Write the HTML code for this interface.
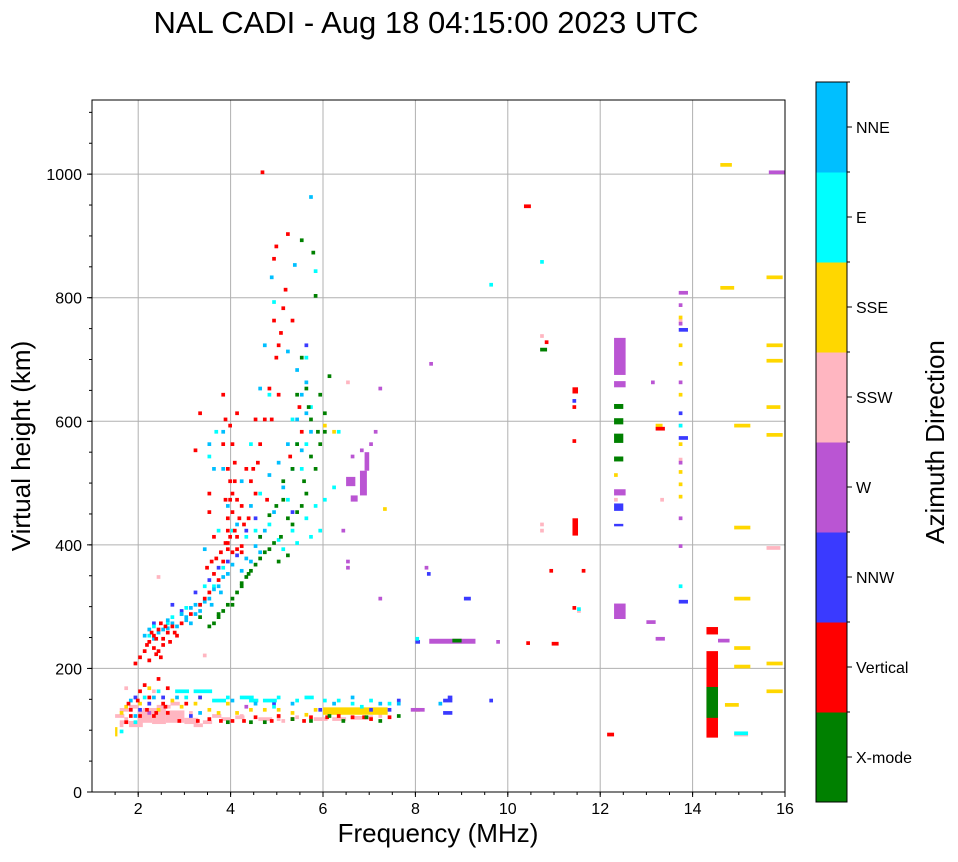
<!DOCTYPE html>
<html><head><meta charset="utf-8"><style>
body{margin:0;background:#fff;font-family:"Liberation Sans",sans-serif}
svg text{font-family:"Liberation Sans",sans-serif}
</style></head><body>
<svg id="chart" width="958" height="857" xmlns="http://www.w3.org/2000/svg">
<rect width="958" height="857" fill="#fff"/>
<text x="426" y="33" font-size="31" text-anchor="middle">NAL CADI - Aug 18 04:15:00 2023 UTC</text>
<g id="grid"></g>
<g id="marks"></g>
<rect x="92" y="100" width="693" height="692" fill="none" stroke="#000" stroke-width="1"/>
<g id="axes"></g>
<text x="438" y="842" font-size="26" text-anchor="middle">Frequency (MHz)</text>
<text transform="translate(30,446) rotate(-90)" font-size="26" text-anchor="middle">Virtual height (km)</text>
<g id="colorbar"></g>
<text transform="translate(944,442) rotate(-90)" font-size="26" text-anchor="middle">Azimuth Direction</text>
</svg>
<script>
// categories bottom->top
const directions=["X-mode","Vertical","NNW","W","SSW","SSE","E","NNE"];
const dirColors=["#008000","#ff0000","#3a3aff","#ba55d3","#ffb6c1","#ffd700","#00ffff","#00bfff"];
const xTicks=[2,4,6,8,10,12,14,16];
const yTicks=[0,200,400,600,800,1000];
// echoes: [freq MHz, virtual height km, width MHz, thickness km]
const xmode=[[3.6,270],[3.8,290],[3.9,300],[4.0,310],[4.1,320],[4.3,345],[4.4,355],[4.5,365],[4.7,385],[4.9,400],[5.0,370],[5.2,380],[5.3,430],[5.5,460],[5.6,480],[5.8,520],[5.9,560],[6.0,610],[5.7,600],[5.6,650],[5.5,700],[5.4,640],[5.8,800],[5.5,890],[5.75,870],[6.1,670],[4.6,410],[5.1,470],[3.3,280],[4.8,445],[3.9,110],[4.7,110],[5.3,115],[6.9,118],[7.6,120],[6.1,120],[10.7,713,.15],[12.3,535,.2,8],[12.3,565,.2,15],[12.3,595,.2,10],[12.3,620,.2,8],[14.3,120,.25,50],[8.8,242,.2],[3.7,285],[4.2,330],[5.4,560],[5.9,640],
[3.7,280],[4.0,300],[4.2,335],[4.35,350],[4.6,375],[4.8,390],[5.05,410],[5.2,440],[5.4,450],[5.55,500],[5.7,540],[5.85,580],[5.65,620],[6.0,580],[5.3,520],[5.1,500],[4.95,460],[3.5,265],[4.4,110],[5.7,112],[6.4,112],[7.2,112]];
const vertical=[[1.9,205],[2.0,215],[2.1,225],[2.2,240],[2.3,250],[2.4,260],[2.5,245],[2.6,255],[2.7,265],[2.8,250],[2.9,270],[2.3,230],[2.5,235],[2.2,210],[2.4,225],[3.1,285],[3.3,300],[3.4,310],[3.5,320],[3.6,350],[3.7,340],[3.8,370],[3.9,390],[4.0,385],[4.1,390],[4.2,395],[3.9,420],[4.0,450],[4.1,470],[3.95,500],[4.05,530],[3.8,560],[3.85,600],[3.8,640],[4.0,480],[4.3,520],[4.4,500],[4.5,480],[3.5,450],[3.6,410],[3.2,550],[3.3,610],[4.6,560],[4.7,600],[4.9,860],[5.0,720],[5.1,780],[5.2,900],[4.95,880],[4.65,1000],[4.8,650],[5.0,640],[5.3,760],[4.5,600],[5.5,580],[3.5,480],[2.0,120],[2.2,150],[2.5,140],[1.7,110],[1.8,130],[2.6,165],[3.0,140],[3.5,115],[4.0,112],[4.5,118],[5.0,120],[5.3,115],[5.7,118],[6.3,120],[6.6,118],[7.0,115],[7.4,118],[2.1,170],[2.4,180],[2.0,160],[1.8,120],[2.3,120],[2.6,125],[3.9,400],[4.1,410],[3.9,440],[4.2,460],
[2.15,235],[2.25,255],[2.35,245],[2.45,270],[2.55,265],[2.65,240],[2.75,255],[2.35,220],[2.45,215],[3.65,375],[3.75,385],[3.85,400],[3.95,410],[4.05,420],[4.15,440],[3.85,470],[3.95,470],[4.05,500],[3.9,520],[4.0,560],[3.95,590],[4.1,610],[4.25,430],[4.35,440],[4.45,520],[4.55,530],[4.2,385],[3.55,370],[3.45,360],[4.75,470],[4.85,600],[4.95,700],[5.05,740],[5.15,810],[4.9,760],[5.25,540],[5.45,620],[1.75,140],[1.95,145],[2.15,130],[2.35,125],[2.55,135],[2.85,112],[3.25,112],[3.75,112],[4.25,112],[4.85,112],[5.55,112],[6.05,118],[6.85,118],
[10.35,945,.15],[10.8,725],[10.9,355],[10.95,237,.15],[10.4,238],[11.4,415,.12,28],[11.4,645,.12,10],[11.4,620],[11.4,565],[11.6,355],[11.4,295],[12.15,90,.15],[13.2,585,.2],[14.3,88,.25,140],[14.3,255,.25,12]];
const nnw=[[2.3,270],[2.9,290],[3.2,320],[3.5,340],[3.7,360],[4.1,380],[4.5,440],[4.6,410],[5.3,450],[5.6,720],[1.9,150],[2.2,140],[7.6,145],[8.6,145,.2],[8.6,125,.2],[9.6,145],[7.4,130],[3.1,120],[8.0,240,.1],[8.25,350],[9.05,310,.15],[12.3,430,.2,4],[12.3,455,.2,12],[13.7,570,.2],[13.7,305,.2],[13.7,745,.2],[13.7,610],[11.4,630],
[2.0,130],[2.5,150],[3.3,150],[4.9,140],[5.9,130],[7.0,130],[2.7,300],[3.9,370],[4.3,420],[8.7,150,.1]];
const west=[[6.5,495,.2,15],[6.6,470,.15,10],[6.8,480,.15,40],[6.9,520,.1,30],[6.4,420],[6.5,360],[6.5,370],[6.6,540],[6.8,550],[7.0,560],[7.1,580],[7.2,650],[7.2,310],[8.2,360],[8.3,690],[8.3,240,1,8],[9.75,240],[12.3,280,.25,25],[12.3,480,.25,10],[12.3,675,.25,60],[12.3,655,.25,10],[13.7,805,.2],[13.7,785],[13.7,755],[13.7,660],[13.7,530],[13.7,440],[13.7,395],[13.2,245,.2],[13.0,272,.2],[13.1,660],[14.55,242,.25],[15.65,1000,.35],[7.9,130,.3],[6.9,118],[4.3,135],[2.2,125]];
const ssw=[[1.6,110,.2],[1.7,115],[1.8,105,.3,10],[2.0,112,.3,20],[2.3,110,.3,25],[2.6,112,.4,20],[3.0,110,.3,10],[1.8,135,.2],[2.2,140],[2.5,150],[2.8,125],[3.2,105,.2],[4.6,115,.3],[5.8,115,.3],[6.2,115,.3],[6.6,117,.4],[7.0,118],[1.7,165],[2.4,345],[3.4,218],[3.6,120,.2],[4.1,118,.2],[5.1,112],[6.5,660],[10.7,735],[10.7,420],[10.7,430],[11.5,290],[12.3,470],[13.7,590],[13.7,535],[13.7,760],[13.3,470],[15.6,392,.3],[14.9,90,.3],
[1.5,120,.2],[1.6,130,.2],[2.1,130,.3],[2.4,135,.3],[2.7,140,.2],[1.9,150],[2.3,160],[3.1,125],[3.4,110,.2],[3.8,115,.2],[4.2,120],[5.4,118],[5.0,115],[7.2,120],[1.6,105]];
const sse=[[6.0,125,1.4,12],[2.7,145],[3.2,140],[3.5,130],[3.9,140],[4.4,130],[5.0,130],[5.6,122],[1.5,90,.05,15],[1.6,125],[8.0,130,.1],[6.0,590],[6.2,580],[7.3,455],[14.6,1012,.25,6],[14.6,813,.3],[15.6,830,.35],[15.6,720,.35],[15.6,695,.35],[15.6,620,.3],[15.6,575,.35],[15.6,205,.35],[15.6,160,.35],[14.9,590,.35],[14.9,425,.35],[14.9,310,.35],[14.9,230,.35],[14.9,200,.35],[14.7,138,.3],[13.7,690],[13.7,720],[13.7,640],[13.7,560],[13.7,515],[13.7,475],[13.7,495],[13.7,765],[12.3,510],[13.2,590,.15],
[1.7,135],[2.0,140],[2.4,130],[2.9,135],[3.3,150],[4.1,125],[4.7,130],[5.3,125],[5.8,130],[2.2,165],[3.7,125]];
const east=[[3.2,160,.4],[3.6,145,.3],[3.9,150],[4.2,150,.3],[4.7,145,.3],[5.0,150],[5.4,145],[6.0,145],[6.6,140],[7.0,145],[2.4,160],[2.1,150],[1.6,95],[8.0,245],[2.2,250],[2.6,270],[2.9,285],[3.3,300],[3.6,330],[3.7,420],[3.5,540],[3.65,580],[4.3,410],[4.6,480],[5.1,390],[5.4,400],[5.7,410],[5.9,420],[5.2,470],[5.5,520],[5.6,560],[5.3,600],[5.8,840],[5.6,700],[4.8,640],[4.9,790],[6.3,580],[6.2,490],[11.5,293],[10.7,855],[9.6,818],[14.9,92,.3],[13.7,330],[13.7,590],
[2.3,265],[2.7,280],[3.0,295],[3.4,330],[3.8,360],[4.0,420],[4.5,420],[4.8,430],[5.0,405],[5.3,420],[5.6,440],[5.8,460],[6.0,470],[5.4,560],[5.7,620],[4.4,560],[2.8,160,.3],[4.4,145,.2],[5.6,150,.2],[6.3,145],[7.4,140],[3.0,150],[4.9,135],[6.8,135],[1.9,110]];
const nne=[[2.1,250],[2.3,245],[2.5,260],[2.7,270],[2.8,265],[3.0,280],[3.1,270],[3.3,290],[3.5,310],[3.7,330],[3.9,350],[4.2,355],[4.4,370],[4.6,385],[3.9,460],[4.1,430],[4.4,460],[4.8,510],[5.0,530],[5.2,560],[5.4,600],[5.5,640],[5.6,660],[5.7,580],[4.7,720],[4.85,830],[5.35,850],[5.7,960],[3.4,390],[3.6,520],[3.8,580],[1.9,120],[2.8,150],[4.0,145],[5.3,140],[7.2,140],[8.5,140],[6.6,150],[3.2,300],[3.0,275],[2.6,262],
[2.2,260],[2.4,255],[2.6,275],[2.9,285],[3.1,295],[3.2,285],[3.4,305],[3.6,325],[3.8,345],[4.0,365],[4.3,375],[4.5,395],[4.7,420],[4.9,450],[5.1,490],[5.3,520],[5.5,550],[5.6,610],[5.4,680],[5.2,710],[4.6,650],[3.8,520],[3.5,560],[4.2,500],[1.8,145],[2.3,150],[3.3,125],[4.5,140],[6.2,140],[7.6,140],[3.55,300],[3.75,320]];
const series=[xmode,vertical,nnw,west,ssw,sse,east,nne];
const drawOrder=[4,5,3,2,6,7,1,0];
const NS="http://www.w3.org/2000/svg";
const X0=92,X1=785,Y0=792,Y1=100,FMIN=1,FMAX=16,HMIN=0,HMAX=1120;
function xs(f){return X0+(f-FMIN)/(FMAX-FMIN)*(X1-X0);}
function ys(h){return Y0-(h-HMIN)/(HMAX-HMIN)*(Y0-Y1);}
function mk(tag,attrs,parent){const e=document.createElementNS(NS,tag);for(const k in attrs)e.setAttribute(k,attrs[k]);parent.appendChild(e);return e;}
const grid=document.getElementById('grid'),axes=document.getElementById('axes'),marks=document.getElementById('marks'),cb=document.getElementById('colorbar');
xTicks.forEach(t=>{const x=xs(t);
 if(t<FMAX){const g=mk('line',{x1:x,x2:x,y1:Y1,y2:Y0,stroke:'#b0b0b0','stroke-width':1},grid);
 
 }
 mk('line',{x1:x,x2:x,y1:Y0,y2:Y0+5,stroke:'#000'},axes);
 const tx=mk('text',{x:x,y:Y0+22,'font-size':16,'text-anchor':'middle'},axes);tx.textContent=t;
 
 });
for(let f=1.5;f<FMAX;f+=0.5){mk('line',{x1:xs(f),x2:xs(f),y1:Y0,y2:Y0+3,stroke:'#000'},axes);}
for(let h=50;h<HMAX;h+=50){mk('line',{x1:X0-3,x2:X0,y1:ys(h),y2:ys(h),stroke:'#000'},axes);}
yTicks.forEach(t=>{const y=ys(t);
 if(t>0){const g=mk('line',{x1:X0,x2:X1,y1:y,y2:y,stroke:'#b0b0b0','stroke-width':1},grid);
 
 }
 mk('line',{x1:X0-5,x2:X0,y1:y,y2:y,stroke:'#000'},axes);
 const tx=mk('text',{x:X0-10,y:y+6,'font-size':16,'text-anchor':'end'},axes);tx.textContent=t;
 
 });
drawOrder.forEach(i=>{series[i].forEach(p=>{
 const w=p[2]||0.08,t=p[3]||6;
 const r=mk('rect',{x:xs(p[0]),y:ys(p[1]+t),width:Math.max(1,xs(p[0]+w)-xs(p[0])),height:Math.max(2,ys(p[1])-ys(p[1]+t)),fill:dirColors[i]},marks);
 
 });});
const CBX=816,CBW=31,CBT=82,CBB=802,n=directions.length,seg=(CBB-CBT)/n;
directions.forEach((d,i)=>{const y=CBB-(i+1)*seg;
 const r=mk('rect',{x:CBX,y:y,width:CBW,height:seg+0.5,fill:dirColors[i]},cb);
 
 
 mk('line',{x1:CBX+CBW,x2:CBX+CBW+5,y1:y+seg/2,y2:y+seg/2,stroke:'#000'},cb);
 mk('line',{x1:CBX+CBW,x2:CBX+CBW+3,y1:y,y2:y,stroke:'#000'},cb);
 const tx=mk('text',{x:CBX+CBW+9,y:y+seg/2+6,'font-size':16},cb);tx.textContent=d;
 
 });
mk('rect',{x:CBX,y:CBT,width:CBW,height:CBB-CBT,fill:'none',stroke:'#000'},cb);
</script>
</body></html>
